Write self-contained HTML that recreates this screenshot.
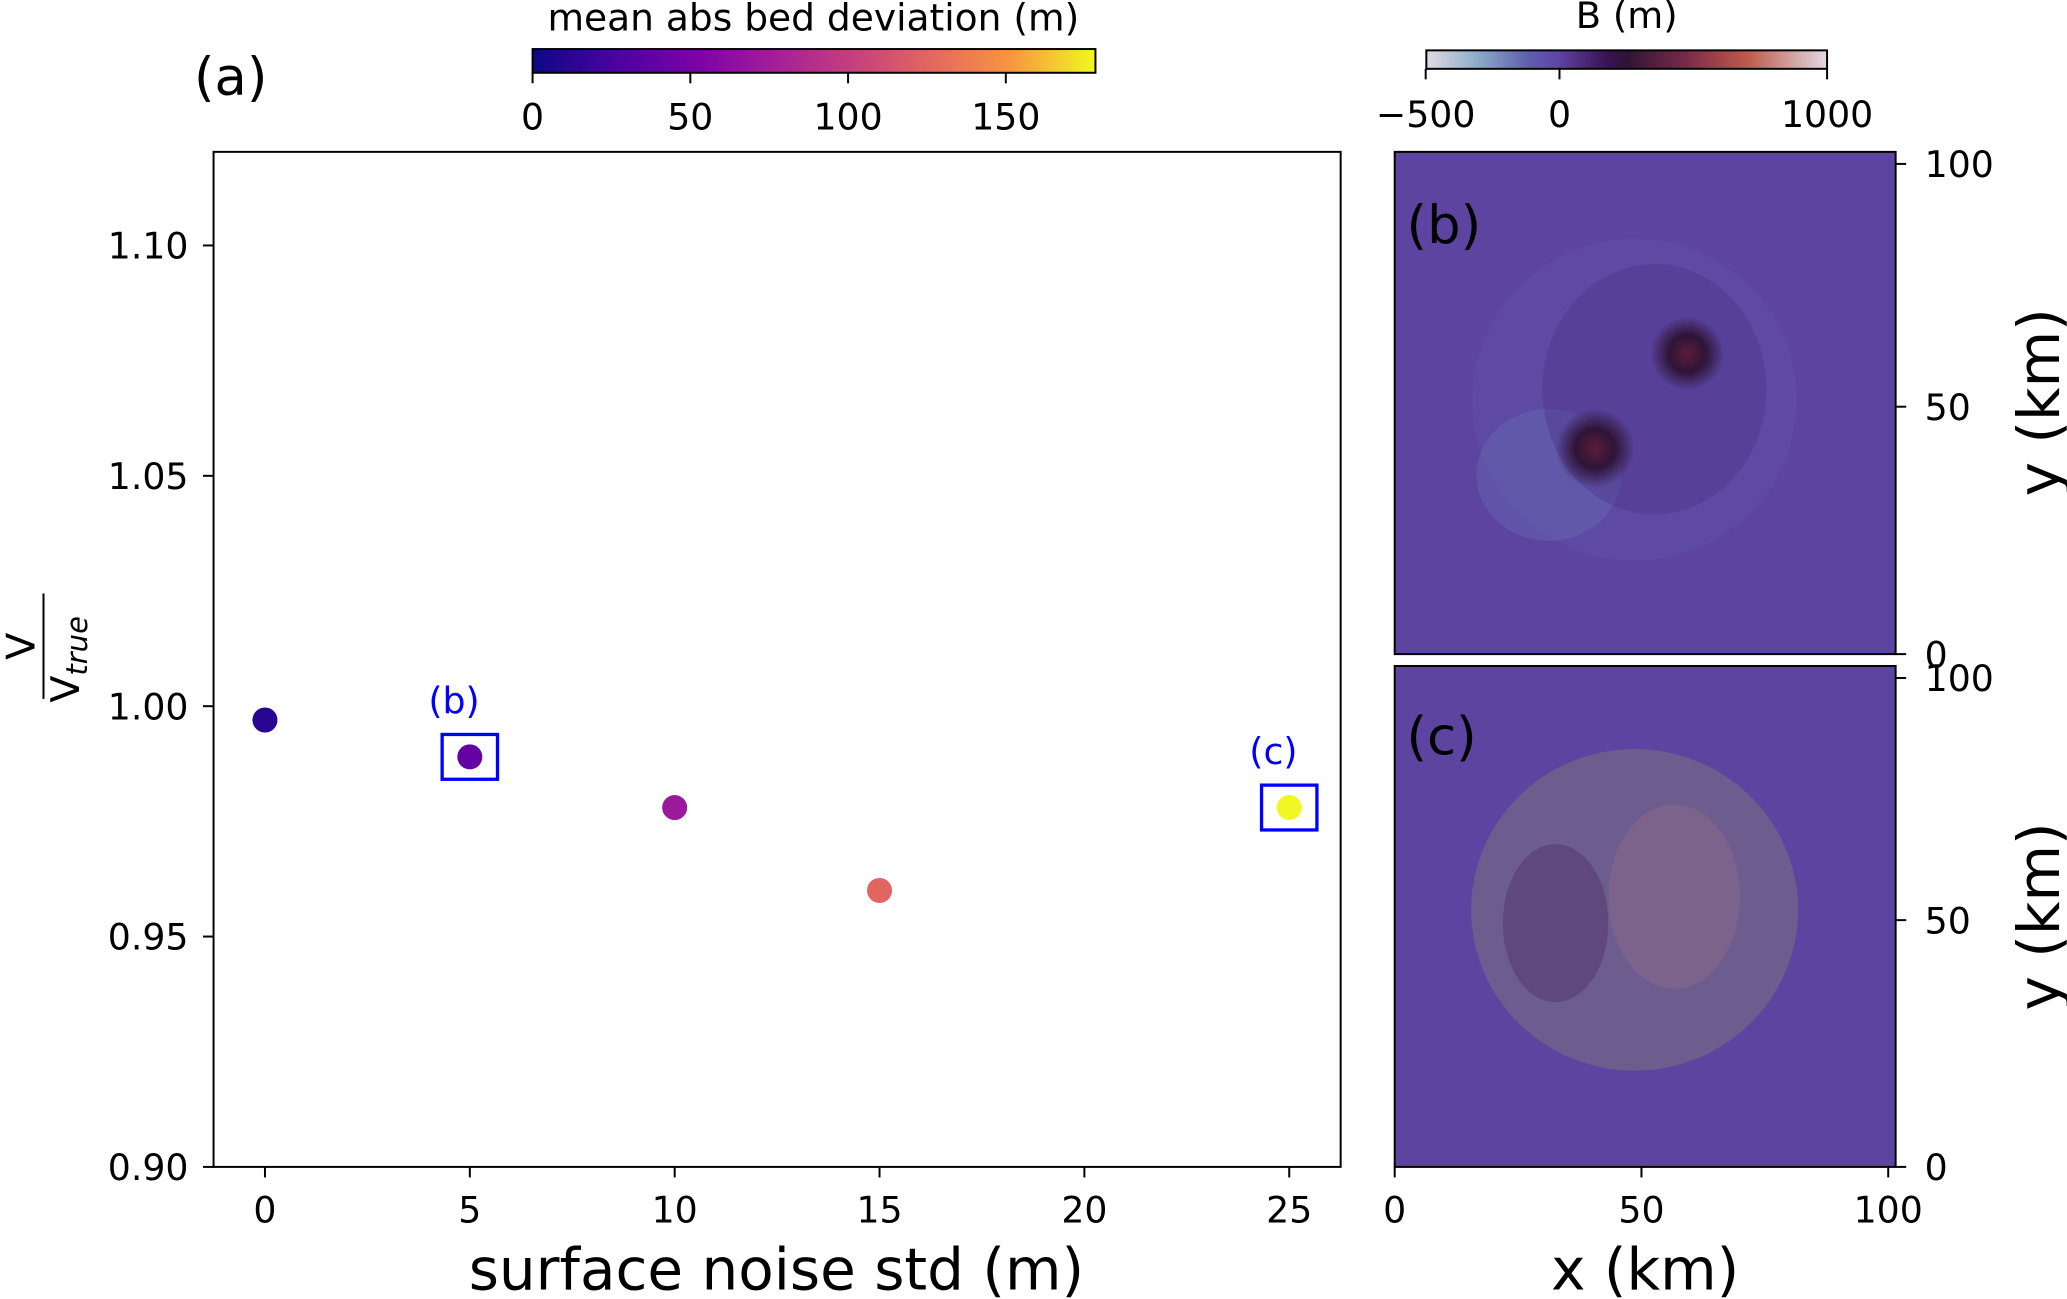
<!DOCTYPE html>
<html><head><meta charset="utf-8"><style>
html,body{margin:0;padding:0;background:#fff}
svg{display:block}
text{font-family:"DejaVu Sans","Liberation Sans",sans-serif;fill:#000}
</style></head><body>
<svg id="fig" width="2067" height="1299" viewBox="0 0 1568 985" xmlns="http://www.w3.org/2000/svg">
<defs>
<linearGradient id="plasma" x1="0" x2="1" y1="0" y2="0">
<stop offset="0" stop-color="#0d0887"/><stop offset="0.15" stop-color="#4c02a1"/><stop offset="0.3" stop-color="#7e03a8"/><stop offset="0.45" stop-color="#a92395"/><stop offset="0.6" stop-color="#cc4778"/><stop offset="0.72" stop-color="#e56b5d"/><stop offset="0.85" stop-color="#f89540"/><stop offset="1" stop-color="#f0f921"/>
</linearGradient>
<linearGradient id="twil" x1="0" x2="1" y1="0" y2="0">
<stop offset="0" stop-color="#e2d9e2"/><stop offset="0.12" stop-color="#8fb0c9"/><stop offset="0.25" stop-color="#6061b0"/><stop offset="0.33" stop-color="#5e43a5"/><stop offset="0.45" stop-color="#3b1355"/><stop offset="0.5" stop-color="#2f1436"/><stop offset="0.65" stop-color="#7a2a4a"/><stop offset="0.8" stop-color="#bd5a4a"/><stop offset="1" stop-color="#e2d9e2"/>
</linearGradient>
<radialGradient id="blob"><stop offset="0" stop-color="#5a1c3c"/><stop offset="0.5" stop-color="#2f1436"/><stop offset="1" stop-color="#2f1436" stop-opacity="0"/></radialGradient>
</defs>

<text x="175" y="72" font-size="40" text-anchor="middle">(a)</text>

<!-- colorbar 1 -->
<text x="617" y="23" font-size="28.5" text-anchor="middle">mean abs bed deviation (m)</text>
<rect x="404" y="37" width="427" height="18" fill="url(#plasma)" stroke="#000" stroke-width="1.5"/>
<g id="cb1ticks"></g>

<!-- colorbar 2 -->
<text x="1234" y="21" font-size="28" text-anchor="middle">B (m)</text>
<rect x="1082" y="38" width="304" height="14" fill="url(#twil)" stroke="#000" stroke-width="1.5"/>
<g id="cb2ticks"></g>

<!-- main axes -->
<rect x="162" y="115" width="855" height="770" fill="none" stroke="#000" stroke-width="1.5"/>
<g id="xt"></g>
<g id="yt"></g>
<g id="pts"></g>
<text x="589" y="978" font-size="44" text-anchor="middle">surface noise std (m)</text>
<g transform="translate(30,490) rotate(-90)">
<text x="0" y="-4" font-size="30" text-anchor="middle">V</text>
<line x1="-40" x2="40" y1="3" y2="3" stroke="#000" stroke-width="1.5"/>
<text x="-10" y="30" font-size="30" text-anchor="middle">V<tspan font-size="22" font-style="italic" dy="6">true</tspan></text>
</g>

<!-- panel b -->
<g>
<rect x="1058" y="115" width="380" height="381" fill="#5d44a0"/>
<ellipse cx="1240" cy="303" rx="123" ry="122" fill="#5e4aa4"/>
<ellipse cx="1175" cy="360" rx="55" ry="50" fill="#6a72b8" opacity="0.35"/>
<ellipse cx="1255" cy="295" rx="85" ry="95" fill="#4a2f85" opacity="0.35"/>
<ellipse cx="1210" cy="340" rx="30" ry="30" fill="url(#blob)"/>
<ellipse cx="1280" cy="268" rx="28" ry="28" fill="url(#blob)"/>
<rect x="1058" y="115" width="380" height="381" fill="none" stroke="#000" stroke-width="1.5"/>
<text x="1067" y="184" font-size="40">(b)</text>
</g>
<!-- panel c -->
<g>
<rect x="1058" y="505" width="380" height="380" fill="#5d44a0"/>
<ellipse cx="1240" cy="690" rx="124" ry="122" fill="#6d5d8e"/>
<ellipse cx="1270" cy="680" rx="50" ry="70" fill="#8a6a88" opacity="0.5"/>
<ellipse cx="1180" cy="700" rx="40" ry="60" fill="#4a2a5e" opacity="0.4"/>
<rect x="1058" y="505" width="380" height="380" fill="none" stroke="#000" stroke-width="1.5"/>
<text x="1067" y="572" font-size="40">(c)</text>
</g>
<g id="rt"></g>
<text transform="translate(1562,305) rotate(-90)" font-size="44" text-anchor="middle">y (km)</text>
<text transform="translate(1562,695) rotate(-90)" font-size="44" text-anchor="middle">y (km)</text>
<text x="1248" y="978" font-size="44" text-anchor="middle">x (km)</text>
</svg>
<script>
const noise = [0, 5, 10, 15, 25];
const ratio = [0.997, 0.989, 0.978, 0.960, 0.978];
const deviation = [12, 40, 72, 125, 178];
const xTicks = [0, 5, 10, 15, 20, 25];
const yTicks = [0.90, 0.95, 1.00, 1.05, 1.10];
const cb1Ticks = [0, 50, 100, 150];
const cb2Ticks = [-500, 0, 1000];
const kmTicks = [0, 50, 100];
const boxed = [{i:1, label:'(b)'}, {i:4, label:'(c)'}];

const NS = 'http://www.w3.org/2000/svg';
const FS = 27.5;
function X(v){return 201 + (v-0)*(978-201)/25;}
function Y(v){return 885 - (v-0.90)*(885-186)/0.20;}
function C1(v){return 404 + v*(763-404)/150;}
function C2(v){return 1183 + v*(1386-1183)/1000;}
function mk(tag, attrs, parent, txt){const e=document.createElementNS(NS,tag);for(const k in attrs)e.setAttribute(k,attrs[k]);if(txt!==undefined)e.textContent=txt;parent.appendChild(e);return e;}
const stops=[[0,[13,8,135]],[0.15,[76,2,161]],[0.3,[126,3,168]],[0.45,[169,35,149]],[0.6,[204,71,120]],[0.72,[229,107,93]],[0.85,[248,149,64]],[1,[240,249,33]]];
function plasma(t){t=Math.max(0,Math.min(1,t));for(let i=1;i<stops.length;i++){if(t<=stops[i][0]){const a=stops[i-1],b=stops[i];const f=(t-a[0])/(b[0]-a[0]);const c=a[1].map((v,j)=>Math.round(v+(b[1][j]-v)*f));return `rgb(${c})`;}}return 'rgb(240,249,33)';}

const xt=document.getElementById('xt'), yt=document.getElementById('yt');
xTicks.forEach(v=>{const l=mk('line',{x1:X(v),x2:X(v),y1:885,y2:893,stroke:'#000','stroke-width':1.5},xt);


const t=mk('text',{x:X(v),y:927,'font-size':FS,'text-anchor':'middle'},xt,String(v));

});
yTicks.forEach(v=>{const l=mk('line',{x1:154,x2:162,y1:Y(v),y2:Y(v),stroke:'#000','stroke-width':1.5},yt);


const t=mk('text',{x:143,y:Y(v)+10,'font-size':FS,'text-anchor':'end'},yt,v.toFixed(2));

});

const pts=document.getElementById('pts');
noise.forEach((n,i)=>{const c=mk('circle',{cx:X(n),cy:Y(ratio[i]),r:9.5,fill:plasma(deviation[i]/178.5)},pts);

});
boxed.forEach(b=>{const cx=X(noise[b.i]), cy=Y(ratio[b.i]);
const r=mk('rect',{x:cx-21,y:cy-17,width:42,height:34,fill:'none',stroke:'#0000ff','stroke-width':2.5},pts);


const t=mk('text',{x:cx-12,y:cy-33,'font-size':FS,'text-anchor':'middle',fill:'#0000ff',style:'fill:#0000ff'},pts,b.label);

});

const cb1=document.getElementById('cb1ticks');
cb1Ticks.forEach(v=>{mk('line',{x1:C1(v),x2:C1(v),y1:55,y2:63,stroke:'#000','stroke-width':1.5},cb1);
const t=mk('text',{x:C1(v),y:98,'font-size':FS,'text-anchor':'middle'},cb1,String(v));

});
const cb2=document.getElementById('cb2ticks');
cb2Ticks.forEach(v=>{mk('line',{x1:C2(v),x2:C2(v),y1:52,y2:60,stroke:'#000','stroke-width':1.5},cb2);
const t=mk('text',{x:C2(v),y:96,'font-size':FS,'text-anchor':'middle'},cb2,v<0?'\u2212'+Math.abs(v):String(v));

});

const rt=document.getElementById('rt');
function KY(v,top,bot){return bot-(v/101.5)*(bot-top);}
[[115,496],[505,885]].forEach(([top,bot])=>{kmTicks.forEach(v=>{const y=(v===100)?top+(bot-top)*0.024:KY(v,top,bot);
mk('line',{x1:1438,x2:1446,y1:y,y2:y,stroke:'#000','stroke-width':1.5},rt);
const t=mk('text',{x:1460,y:y+10,'font-size':FS},rt,String(v));

});});
kmTicks.forEach(v=>{const x=1058+v/101.5*380;
mk('line',{x1:x,x2:x,y1:885,y2:893,stroke:'#000','stroke-width':1.5},rt);
const t=mk('text',{x:x,y:927,'font-size':FS,'text-anchor':'middle'},rt,String(v));

});
</script>
</body></html>
